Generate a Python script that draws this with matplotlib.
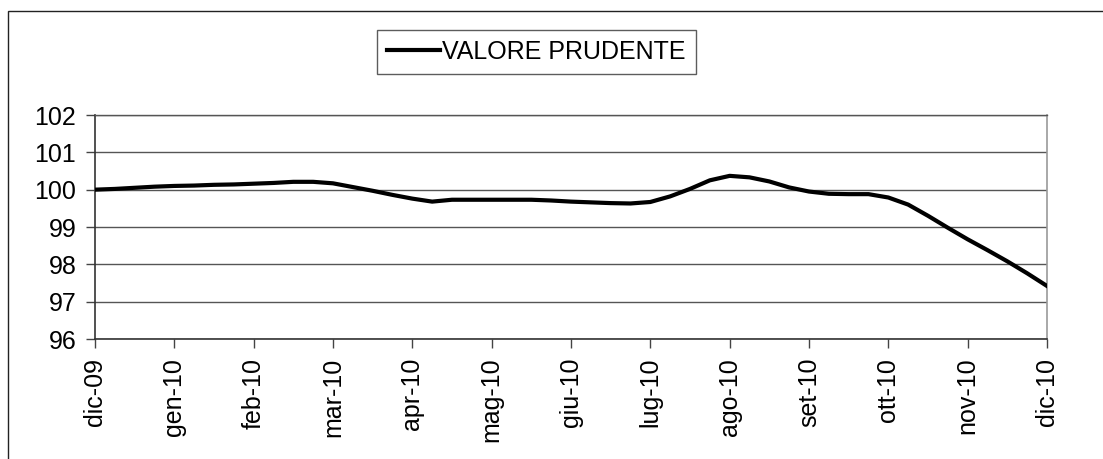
import matplotlib
matplotlib.use("Agg")
import matplotlib.pyplot as plt
from matplotlib.patches import Rectangle

# month labels on the category axis (dic-09 .. dic-10)
month_labels = ["dic-09", "gen-10", "feb-10", "mar-10", "apr-10", "mag-10", "giu-10",
                "lug-10", "ago-10", "set-10", "ott-10", "nov-10", "dic-10"]

valore_prudente = [
    100.00, 100.02, 100.05, 100.08, 100.10, 100.11, 100.13, 100.14,
    100.16, 100.18, 100.21, 100.21, 100.17, 100.07, 99.97, 99.86,
    99.76, 99.68, 99.73, 99.73, 99.73, 99.73, 99.73, 99.71,
    99.68, 99.66, 99.64, 99.63, 99.67, 99.82, 100.02, 100.25,
    100.37, 100.33, 100.22, 100.06, 99.95, 99.89, 99.88, 99.88,
    99.79, 99.60, 99.30, 98.98, 98.67, 98.38, 98.08, 97.76, 97.42,
]
y_ticks = [96, 97, 98, 99, 100, 101, 102]

plt.rcParams["font.family"] = ["Liberation Sans", "DejaVu Sans"]

W, H = 1103, 459
fig = plt.figure(figsize=(W / 100, H / 100), dpi=100)
fig.patch.set_facecolor("white")

# outer chart-area frame (right and bottom run off the image)
fig.patches.append(Rectangle((8 / W, -0.5), 2, 1.5 - 11 / H, transform=fig.transFigure,
                             fill=False, edgecolor="#222222", linewidth=1.0))

ax = fig.add_axes([95 / W, 1 - 339 / H, (1047 - 95) / W, (339 - 115) / H])
steps = len(valore_prudente) - 1
x = [i * (len(month_labels) - 1) / steps for i in range(len(valore_prudente))]
line, = ax.plot(x, valore_prudente, color="black", linewidth=3.0,
                solid_joinstyle="round", label="VALORE PRUDENTE", zorder=3)

ax.set_xlim(0, len(month_labels) - 1)
ax.set_ylim(y_ticks[0], y_ticks[-1])
ax.set_yticks(y_ticks)
ax.set_xticks(range(len(month_labels)))
ax.set_xticklabels(month_labels, rotation=90)
ax.yaxis.grid(True, color="#555555", linewidth=1.0)
ax.set_axisbelow(True)

ax.tick_params(axis="both", direction="out", length=6.5, width=1.0,
               color="#444444", labelsize=18, pad=7)
for side in ("left", "bottom"):
    ax.spines[side].set_color("#333333")
    ax.spines[side].set_linewidth(1.2)
ax.spines["right"].set_color("#999999")
ax.spines["right"].set_linewidth(1.2)
ax.spines["top"].set_color("#555555")
ax.spines["top"].set_linewidth(1.0)

leg = fig.legend(handles=[line], loc="center", bbox_to_anchor=(536.5 / W, 1 - 52 / H),
                 frameon=True, fancybox=False, shadow=False, fontsize=18,
                 handlelength=2.1, handletextpad=0.1, borderpad=0.4)
leg.get_frame().set_edgecolor("#333333")
leg.get_frame().set_linewidth(1.0)

fig.savefig("out.png", dpi=100, facecolor="white")
